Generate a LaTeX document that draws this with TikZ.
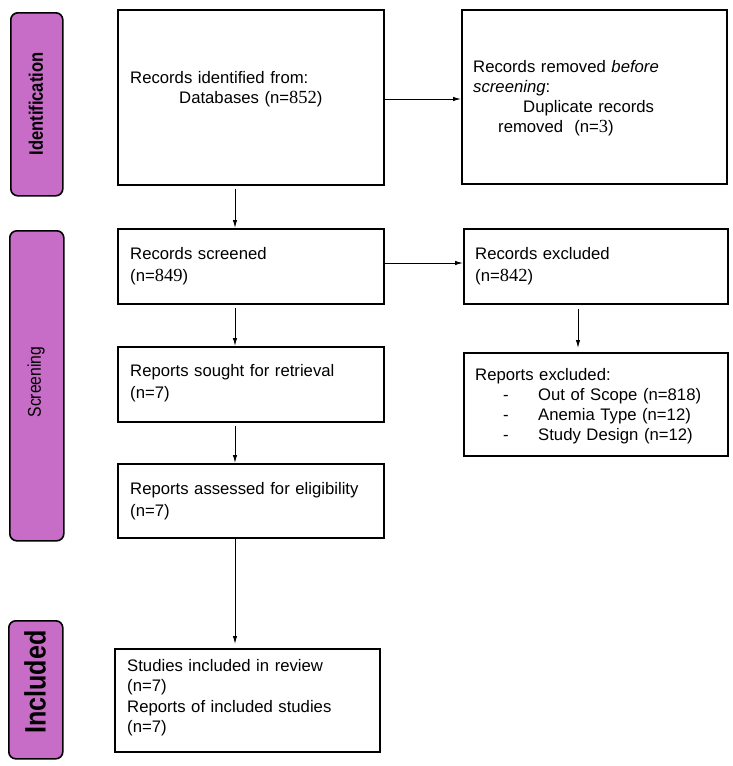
\documentclass[tikz,border=0pt]{standalone}
\usepackage{fontspec}
\setmainfont{Liberation Sans}
\newfontfamily\numfont{Liberation Serif}
\newfontfamily\sidefont[FakeStretch=0.85]{Liberation Sans}
\newcommand\serifnum[1]{{\numfont\fontsize{18.5}{20}\selectfont #1}}
\usetikzlibrary{arrows.meta}
\definecolor{phase}{RGB}{199,108,199}
\begin{document}
\begin{tikzpicture}[x=1pt,y=-1pt,
  box/.style={draw, line width=1.6pt, inner sep=0pt, anchor=north west},
  phasebox/.style={draw, line width=1.6pt, fill=phase, rounded corners=7pt, inner sep=0pt, anchor=north west},
  txt/.style={anchor=north west, inner sep=0pt, text width=255pt, align=left, font=\fontsize{16.7}{20}\selectfont},
  txtw/.style={txt, font=\fontsize{16.7}{22}\selectfont},
  arr/.style={-{Latex[length=8pt,width=4.5pt]}, line width=1pt}]
\useasboundingbox (0,0) rectangle (733,766);
% phase labels
\node[phasebox, minimum width=52pt, minimum height=183pt] (p1) at (10,12) {};
\node[phasebox, minimum width=54pt, minimum height=310pt] (p2) at (9,230) {};
\node[phasebox, minimum width=54pt, minimum height=138pt] (p3) at (8,620) {};
\node[rotate=90, inner sep=0pt, font=\sidefont\bfseries\fontsize{19.5}{20}\selectfont] (l1) at (36,104) {Identification};
\node[rotate=90, inner sep=0pt, font=\sidefont\fontsize{18.5}{20}\selectfont] (l2) at (36,382) {Screening};
\node[rotate=90, inner sep=0pt, font=\sidefont\bfseries\fontsize{29.5}{30}\selectfont] (l3) at (35,682) {Included};
% boxes
\node[box, minimum width=266pt, minimum height=175pt] (b1) at (117,9) {};
\node[box, minimum width=265pt, minimum height=174pt] (b2) at (461,9) {};
\node[box, minimum width=266pt, minimum height=75pt] (b3) at (117,228) {};
\node[box, minimum width=264pt, minimum height=75pt] (b4) at (463,228) {};
\node[box, minimum width=264pt, minimum height=103pt] (b5) at (463,352) {};
\node[box, minimum width=266pt, minimum height=75pt] (b6) at (117,346) {};
\node[box, minimum width=266pt, minimum height=74pt] (b7) at (117,463) {};
\node[box, minimum width=265pt, minimum height=103pt] (b8) at (114,648) {};
% texts
\node[txt] (t1) at (130,69) {\strut Records identified from:\\\hspace*{49pt}Databases (n=\serifnum{852})};
\node[txt] (t2) at (473,58) {\strut Records removed \textit{before}\\\textit{screening}:\\\hspace*{50pt}Duplicate records\\\hspace*{25pt}removed\ \ (n=\serifnum{3})};
\node[txtw] (t3) at (130,243.6) {\strut Records screened\\(n=\serifnum{849})};
\node[txtw] (t4) at (475,243.9) {\strut Records excluded\\(n=\serifnum{842})};
\node[txt] (t5) at (475,366.7) {\strut Reports excluded:\\\hspace*{28pt}\makebox[35pt][l]{-}Out of Scope (n=818)\\\hspace*{28pt}\makebox[35pt][l]{-}Anemia Type (n=12)\\\hspace*{28pt}\makebox[35pt][l]{-}Study Design (n=12)};
\node[txtw] (t6) at (130,361.3) {\strut Reports sought for retrieval\\(n=7)};
\node[txtw] (t7) at (130,478.6) {\strut Reports assessed for eligibility\\(n=7)};
\node[txt, font=\fontsize{16.7}{20.5}\selectfont] (t8) at (127,656.6) {\strut Studies included in review\\(n=7)\\Reports of included studies\\(n=7)};
% connectors
\coordinate (ax) at (235,0);
\coordinate (bx) at (578,0);
\coordinate (y12) at (0,99);
\coordinate (y34) at (0,263);
\draw[arr] (b1.east |- y12) -- (b2.west |- y12);
\draw[arr] (b3.east |- y34) -- (b4.west |- y34);
\draw[arr, shorten <=3pt] (b1.south -| ax) -- (b3.north -| ax);
\draw[arr, shorten <=3pt] (b3.south -| ax) -- (b6.north -| ax);
\draw[arr, shorten <=3pt] (b6.south -| ax) -- (b7.north -| ax);
\draw[arr, shorten >=4pt] (b7.south -| ax) -- (b8.north -| ax);
\draw[arr, shorten <=4pt, shorten >=4pt] (b4.south -| bx) -- (b5.north -| bx);
\end{tikzpicture}
\end{document}
